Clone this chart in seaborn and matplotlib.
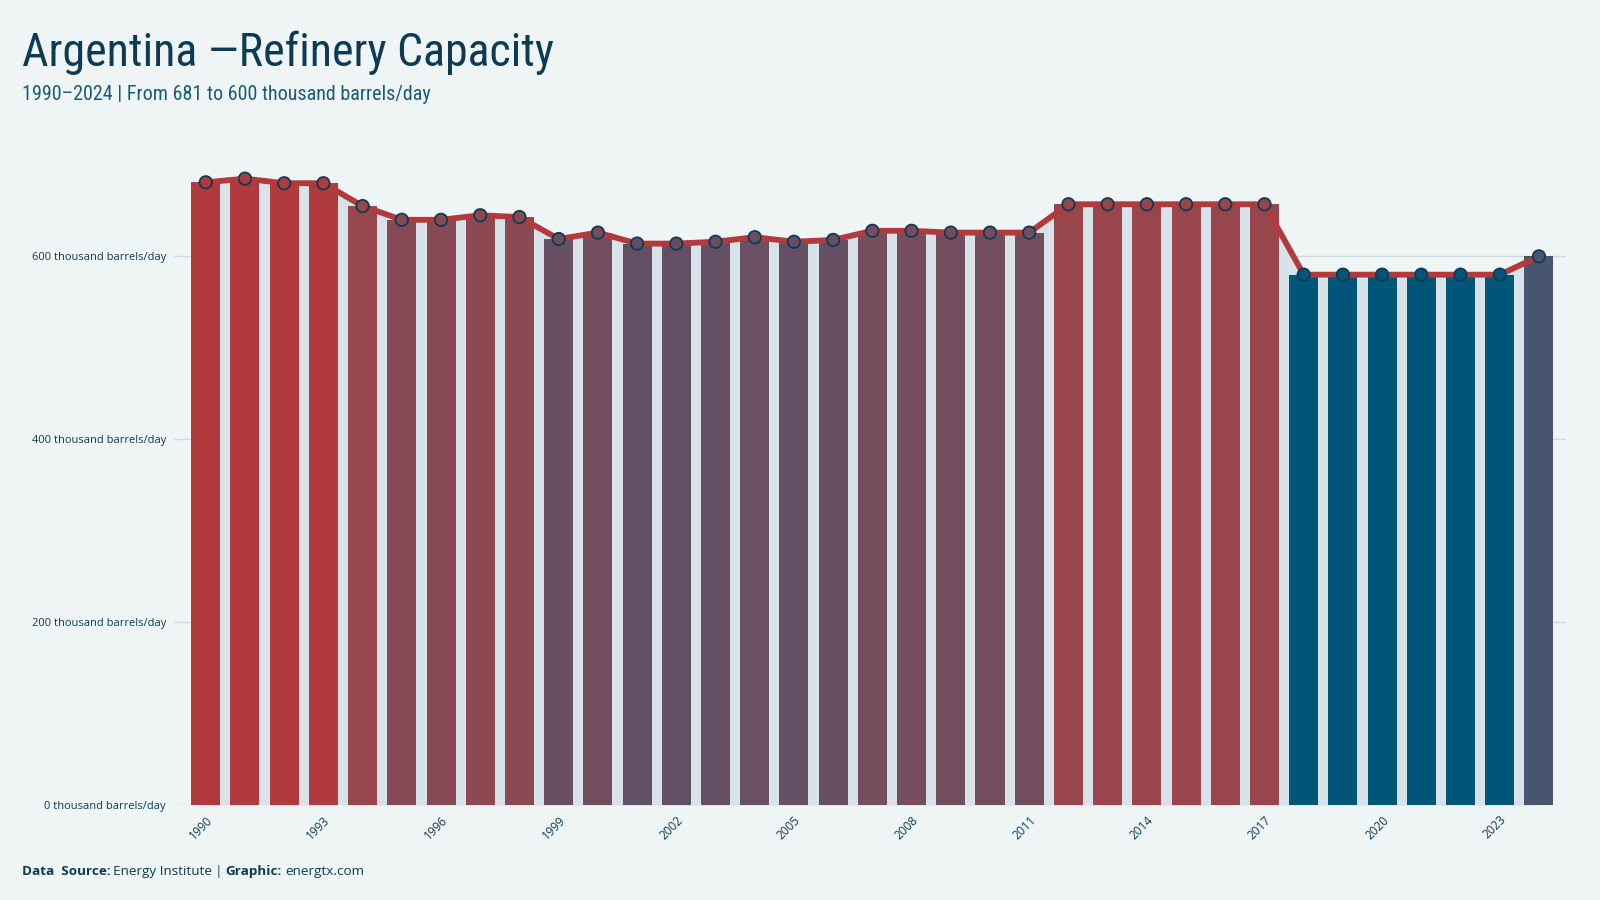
import numpy as np
import pandas as pd
import matplotlib.pyplot as plt
import seaborn as sns
from matplotlib import font_manager
from matplotlib.colors import LinearSegmentedColormap, Normalize, to_hex

# Data (thousand barrels/day)
anos = list(range(1990, 2025))
capacidade = [681, 685, 680, 680, 655, 640, 640, 645, 643, 619,
              626, 614, 614, 616, 621, 616, 618, 628, 628, 626,
              626, 626, 657, 657, 657, 657, 657, 657, 580, 580,
              580, 580, 580, 580, 600]
ticks_y = [0, 200, 400, 600]

bg = "#eff5f5"
navy = "#0d3b55"
linha_cor = "#b13a3c"
area_cor = "#d7e3e8"

df = pd.DataFrame({"ano": anos, "cap": capacidade})
df["pos"] = np.arange(len(df))

# Colour scale blue -> purple -> red by value
cmap = LinearSegmentedColormap.from_list(
    "cap", [(0.0, "#005578"), (0.19, "#4a556e"), (0.32, "#624f65"),
            (0.37, "#684f63"), (0.57, "#874a55"), (0.72, "#96474c"),
            (0.95, "#b13a3c"), (1.0, "#b13a3c")])
norm = Normalize(vmin=min(capacidade), vmax=max(capacidade))
cores = [to_hex(cmap(norm(v))) for v in capacidade]

sns.set_style("white")
disponiveis = {f.name for f in font_manager.fontManager.ttflist}
titulo_fam = [f for f in ["Roboto Condensed", "Liberation Sans Narrow", "Roboto", "DejaVu Sans"] if f in disponiveis]
texto_fam = [f for f in ["Open Sans", "Noto Sans", "DejaVu Sans"] if f in disponiveis]
plt.rcParams["font.family"] = texto_fam

fig = plt.figure(figsize=(16, 9), dpi=100, facecolor=bg)
ax = fig.add_axes([0.109, 0.1055, 0.870, 0.76])
ax.set_facecolor(bg)

# Area under the line
ax.fill_between(df["pos"], df["cap"], 0, color=area_cor, zorder=1, linewidth=0)

# Bars
sns.barplot(data=df, x="pos", y="cap", hue="pos", palette=cores, legend=False,
            dodge=False, width=0.74, ax=ax, zorder=2, linewidth=0, saturation=1)

# Line and markers
sns.lineplot(data=df, x="pos", y="cap", color=linha_cor, linewidth=4.2, ax=ax, zorder=3)
ax.scatter(df["pos"], df["cap"], s=80, c=cores, edgecolors=navy, linewidths=1.3, zorder=4)

ax.set_xlim(-0.8, len(df) - 0.3)
ax.set_ylim(0, 748)
ax.set_yticks(ticks_y)
ax.set_yticklabels([f"{t} thousand barrels/day" for t in ticks_y], fontsize=8, color=navy)
ax.yaxis.grid(True, color="#cfdadd", linewidth=1, zorder=0)
ax.set_axisbelow(True)

pos_x = df["pos"][::3]
ax.set_xticks(pos_x)
ax.set_xticklabels(df["ano"][::3], rotation=45, ha="right", rotation_mode="anchor",
                   fontsize=8.5, color=navy)
ax.tick_params(axis="both", length=0, pad=6)
ax.set_xlabel("")
ax.set_ylabel("")
sns.despine(ax=ax, left=True, bottom=True)

# Titles
fig.text(0.0135, 0.927, "Argentina \u2014Refinery Capacity", fontsize=33, color=navy,
         family=titulo_fam, va="baseline")
fig.text(0.0135, 0.889, "1990\u20132024 | From 681 to 600 thousand barrels/day", fontsize=14.5,
         color="#1a5a7a", family=titulo_fam, va="baseline")

# Footer: pieces chained one after another
pecas = [("Energy Institute", "normal", navy, 2), ("|", "bold", "#6b8a9a", 2),
         ("Graphic:", "bold", navy, 2), ("energtx.com", "normal", navy, 3)]
prev = fig.text(0.0135, 0.0245, "Data  Source:", fontsize=9.7, color=navy,
                weight="bold", va="bottom")
for texto, peso, cor, gap in pecas:
    prev = ax.annotate(texto, xy=(1, 0), xycoords=prev, xytext=(gap, 0),
                       textcoords="offset points", fontsize=9.7, color=cor,
                       weight=peso, va="bottom", ha="left", annotation_clip=False)

fig.savefig("out.png", dpi=100, facecolor=bg)
plt.close(fig)
